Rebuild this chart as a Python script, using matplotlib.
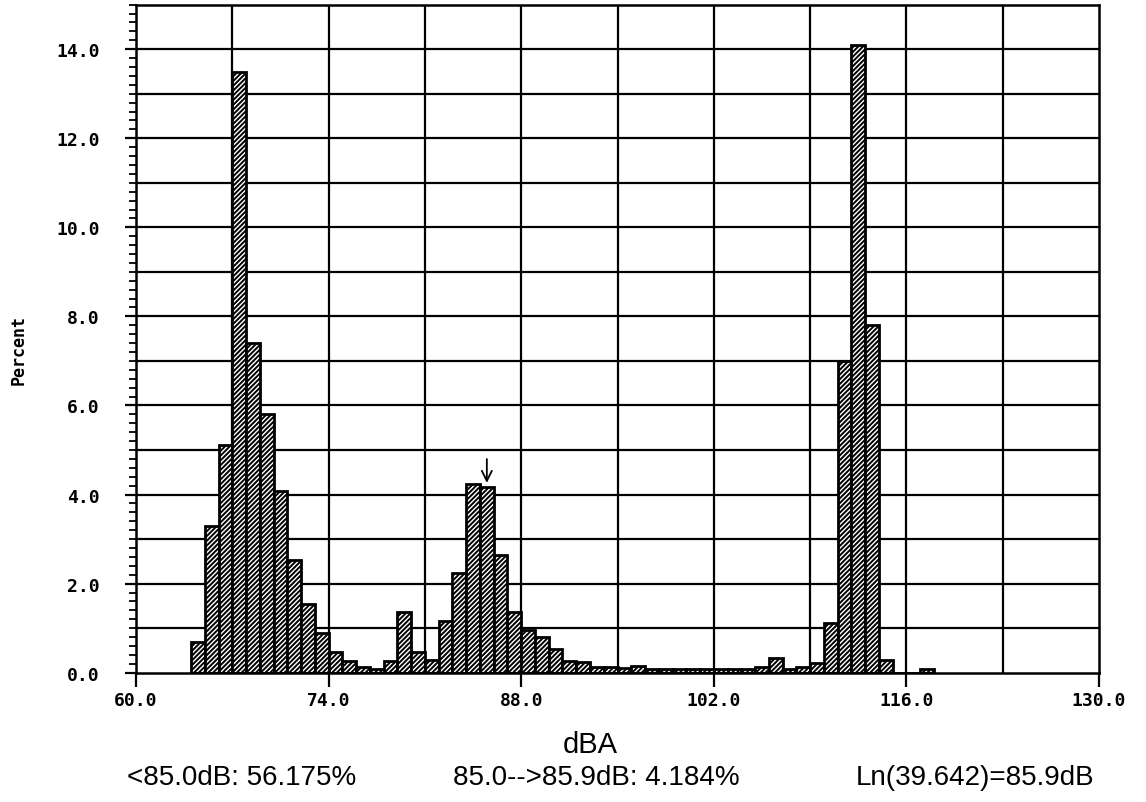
import numpy as np
import matplotlib
matplotlib.use('Agg')
import matplotlib.pyplot as plt

# histogram of levels, 1 dB bins starting at each value
bins = list(range(64, 118))
percent = [0.68, 3.29, 5.11, 13.49, 7.4, 5.81, 4.08, 2.54, 1.55, 0.90,
           0.47, 0.27, 0.12, 0.08, 0.27, 1.36, 0.47, 0.28, 1.16, 2.25,
           4.23, 4.18, 2.64, 1.36, 0.95, 0.81, 0.53, 0.27, 0.23, 0.12,
           0.12, 0.10, 0.14, 0.08, 0.08, 0.08, 0.08, 0.08, 0.08, 0.08,
           0.08, 0.12, 0.33, 0.08, 0.12, 0.21, 1.12, 7.0, 14.09, 7.8,
           0.28, 0.0, 0.0, 0.08]
marked_bin = 85
xticks = [60, 74, 88, 102, 116, 130]
yticks = [0, 2, 4, 6, 8, 10, 12, 14]
footer = ['<85.0dB: 56.175%', '85.0-->85.9dB: 4.184%', 'Ln(39.642)=85.9dB']

plt.rcParams['hatch.linewidth'] = 1.4

fig = plt.figure(figsize=(11.46, 8.03), dpi=100)
ax = fig.add_axes([0.1187, 0.161, 0.8403, 0.832])

ax.set_xlim(60, 130)
ax.set_ylim(0, 15)

# grid
for y in np.arange(1, 15):
    ax.axhline(y, color='black', lw=1.6, zorder=1)
for x in np.arange(67, 130, 7):
    ax.axvline(x, color='black', lw=1.6, zorder=1)

ax.bar(bins, percent, width=1.0, align='edge', facecolor='white',
       edgecolor='black', linewidth=2.0, hatch='///////', zorder=2)

# arrow over the selected bin
i = bins.index(marked_bin)
ax.annotate('', xy=(marked_bin + 0.5, percent[i] + 0.02),
            xytext=(marked_bin + 0.5, percent[i] + 0.68),
            arrowprops=dict(arrowstyle='->', color='black', lw=1.3,
                            mutation_scale=18), zorder=3)

for s in ax.spines.values():
    s.set_linewidth(1.8)

tick_font = dict(family='DejaVu Sans Mono', weight='bold', size=13)
ax.set_xticks(xticks)
ax.set_xticklabels(['%.1f' % v for v in xticks], fontdict=tick_font)
ax.set_yticks(yticks)
ax.set_yticklabels(['%.1f' % v for v in yticks], fontdict=tick_font)
ax.set_yticks(np.arange(0, 15.01, 0.2), minor=True)
ax.tick_params(axis='x', direction='out', length=10, width=1.6, pad=3)
ax.tick_params(axis='y', which='major', direction='out', length=8, width=1.6, pad=18)
ax.tick_params(axis='y', which='minor', direction='out', length=5, width=1.3)

fig.text(0.016, 0.564, 'Percent', rotation=90, ha='center', va='center',
         family='DejaVu Sans Mono', weight='bold', size=12)

fig.text(0.515, 0.072, 'dBA', ha='center', va='center',
         family='Liberation Sans', size=21)
for xpos, s in zip([0.211, 0.52, 0.851], footer):
    fig.text(xpos, 0.031, s, ha='center', va='center',
             family='Liberation Sans', size=20)

fig.savefig('out.png', dpi=100)
